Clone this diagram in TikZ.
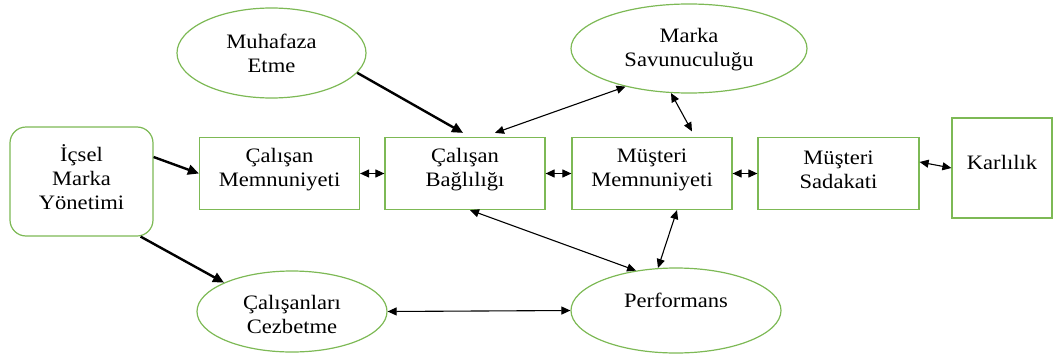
\documentclass[tikz,border=0pt]{standalone}
\usepackage{fontspec}
\setmainfont[FakeStretch=1.1]{Liberation Serif}
\usetikzlibrary{arrows.meta,shapes.geometric}
\definecolor{boxgreen}{RGB}{125,185,85}
\tikzset{
  shp/.style={draw=boxgreen, line width=1.2pt, inner sep=0pt},
  rbox/.style={shp, rectangle},
  ell/.style={shp, ellipse},
  txt/.style={font=\fontsize{20.5}{24}\selectfont, align=center, text=black},
  thickarr/.style={line width=2.4pt, -{Triangle[length=11pt,width=10pt]}},
  bi/.style={line width=1.1pt, {Triangle[length=9pt,width=8pt]}-{Triangle[length=9pt,width=8pt]}}
}
\begin{document}
\begin{tikzpicture}[x=1pt,y=-1pt]
\useasboundingbox (0,0) rectangle (1056,356);
% boxes
\node[rbox, rounded corners=16pt, minimum width=143pt, minimum height=109pt,
  label={[txt,yshift=4.5pt]center:İçsel\\Marka\\Yönetimi}] (icsel) at (81.5,181.5) {};
\node[rbox, minimum width=160pt, minimum height=72pt,
  label={[txt,yshift=4pt]center:Çalışan\\Memnuniyeti}] (cm) at (279.5,173.5) {};
\node[rbox, minimum width=160pt, minimum height=72pt,
  label={[txt,yshift=4pt]center:Çalışan\\Bağlılığı}] (cb) at (465,173.5) {};
\node[rbox, minimum width=160pt, minimum height=72pt,
  label={[txt,yshift=4pt]center:Müşteri\\Memnuniyeti}] (mm) at (652,173.5) {};
\node[rbox, minimum width=161pt, minimum height=72pt,
  label={[txt,yshift=4pt]center:Müşteri\\Sadakati}] (ms) at (838.5,173.5) {};
\node[rbox, minimum width=100pt, minimum height=100pt,
  label={[txt,yshift=6pt]center:Karlılık}] (kar) at (1002,168) {};
% ellipses
\node[ell, minimum width=189pt, minimum height=90pt,
  label={[txt]center:Muhafaza\\Etme}] (muh) at (271.5,53) {};
\node[ell, minimum width=236pt, minimum height=89pt,
  label={[txt,yshift=-1.5pt]center:Marka\\Savunuculuğu}] (sav) at (689,48.5) {};
\node[ell, minimum width=190pt, minimum height=81pt,
  label={[txt,yshift=-2.5pt]center:Çalışanları\\Cezbetme}] (cez) at (292,311.5) {};
\node[ell, minimum width=210pt, minimum height=85pt,
  label={[txt,yshift=10pt]center:Performans}] (perf) at (676,310.5) {};
% thick arrows
\draw[thickarr] (muh.-13.5) -- ([xshift=-2pt,yshift=4pt]cb.north);
\draw[thickarr] ([yshift=24.5pt]icsel.east) -- (cm.west);
\draw[thickarr] ([xshift=-13pt]icsel.south east) -- (cez.157);
% bidirectional arrows
\draw[bi] (cm.east) -- (cb.west);
\draw[bi] (cb.east) -- (mm.west);
\draw[bi] (mm.east) -- (ms.west);
\draw[bi] ([yshift=11.5pt]ms.east) -- (kar.west);
\draw[bi] ([xshift=30pt,yshift=4pt]cb.north) -- (sav.-149);
\draw[bi] (sav.-112) -- ([xshift=40pt,yshift=5.5pt]mm.north);
\draw[bi] ([xshift=5pt]cb.south) -- (perf.135);
\draw[bi] ([xshift=25pt]mm.south) -- (perf.113);
\draw[bi] (cez.east) -- (perf.west);
\end{tikzpicture}
\end{document}
